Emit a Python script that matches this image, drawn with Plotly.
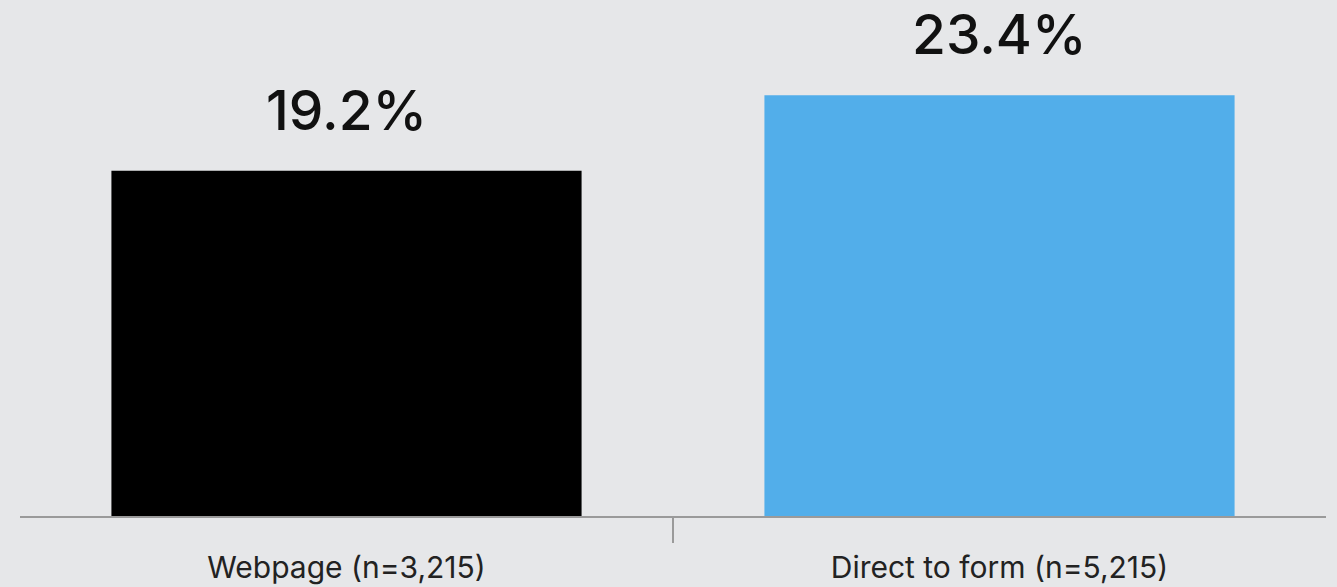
import plotly.graph_objects as go

categories = ["Webpage (n=3,215)", "Direct to form (n=5,215)"]
values = [19.2, 23.4]
labels = ["19.2%", "23.4%"]
colors = ["#000000", "#52aeea"]

BG = "#e6e7e9"

fig = go.Figure()
fig.add_trace(go.Bar(
    x=categories, y=values,
    marker=dict(color=colors, line=dict(width=0)),
    hoverinfo="skip",
))

for c, v, t in zip(categories, values, labels):
    fig.add_annotation(
        x=c, y=v, text=t, showarrow=False,
        yanchor="middle", yshift=61,
        font=dict(family="Inter", size=55, color="#111111", weight=500),
    )

# tick mark between the categories
fig.add_shape(
    type="line", xref="x", yref="paper",
    x0=0.5, x1=0.5, y0=0, y1=-27 / 516,
    line=dict(color="#9a9a9a", width=2),
)

fig.update_layout(
    width=1337, height=587,
    paper_bgcolor=BG, plot_bgcolor=BG,
    margin=dict(l=20, r=11, t=0, b=71),
    bargap=0.28,
    showlegend=False,
    xaxis=dict(
        showline=True, linecolor="#9a9a9a", linewidth=2,
        ticks="", showgrid=False, zeroline=False,
        tickfont=dict(family="Inter", size=30, color="#222222"),
        ticklabelstandoff=24,
    ),
    yaxis=dict(
        range=[0, 28.7], visible=False, showgrid=False, zeroline=False,
    ),
)

fig.write_html(
    "out.html",
    config={"displayModeBar": False},
    post_script="document.body.style.margin='0';document.body.style.padding='0';",
)
